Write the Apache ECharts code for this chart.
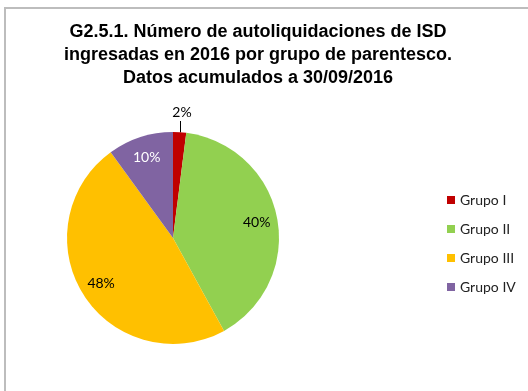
<!DOCTYPE html>
<html>
<head>
<meta charset="utf-8">
<script src="https://cdn.jsdelivr.net/npm/echarts@6/dist/echarts.min.js"></script>
<style>
  html, body { margin: 0; padding: 0; background: #fff; overflow: hidden; }
  #frame { position: absolute; left: 4px; top: 7px; width: 700px; height: 600px;
           border-left: 2px solid #bdbdbd; border-top: 2px solid #bdbdbd; }
  #chart { position: absolute; left: 0; top: 0; width: 528px; height: 391px; }
</style>
</head>
<body>
<div id="frame"></div>
<div id="chart"></div>
<script>
// Grupos de parentesco y su peso (%) en las autoliquidaciones de ISD
const grupos = ['Grupo I', 'Grupo II', 'Grupo III', 'Grupo IV'];
const porcentajes = [2, 40, 48, 10];
const colores = ['#C00000', '#92D050', '#FFC000', '#8064A2'];
const coloresEtiqueta = ['#000000', '#000000', '#000000', '#FFFFFF'];
const titulo = 'G2.5.1. Número de autoliquidaciones de ISD\ningresadas en 2016 por grupo de parentesco.\nDatos acumulados a 30/09/2016';

const centro = [173, 238];
const radio = 106;
const fuenteTexto = 'Lato, "Liberation Sans", sans-serif';

const datosPie = grupos.map((g, i) => ({
  name: g,
  value: porcentajes[i],
  itemStyle: { color: colores[i] },
  label: { show: i === 0 },
  labelLine: { show: i === 0 }
}));

// Capa transparente que sólo coloca las etiquetas interiores a ~0.78 del radio
const datosEtiquetas = grupos.map((g, i) => ({
  name: g,
  value: porcentajes[i],
  itemStyle: { color: 'rgba(0,0,0,0)' },
  label: { show: i !== 0, color: coloresEtiqueta[i] }
}));

const chart = echarts.init(document.getElementById('chart'), null, { renderer: 'canvas' });
chart.setOption({
  animation: false,
  title: {
    text: titulo,
    left: 258,
    top: 21,
    padding: 0,
    textAlign: 'center',
    textStyle: {
      fontFamily: '"Liberation Sans", Arial, sans-serif',
      fontWeight: 'bold',
      fontSize: 18,
      lineHeight: 23,
      color: '#000'
    }
  },
  legend: {
    data: grupos,
    orient: 'vertical',
    left: 447,
    top: 192,
    padding: 0,
    itemWidth: 8,
    itemHeight: 8,
    itemGap: 13,
    icon: 'rect',
    textStyle: { fontFamily: fuenteTexto, fontSize: 14, lineHeight: 16, color: '#222' }
  },
  series: [
    {
      type: 'pie',
      center: centro,
      radius: radio,
      startAngle: 90,
      clockwise: true,
      silent: true,
      itemStyle: { borderWidth: 0 },
      label: {
        position: 'outside',
        formatter: '{c}%',
        fontFamily: fuenteTexto,
        fontSize: 14,
        color: '#000'
      },
      labelLine: { length: 10, length2: 0, lineStyle: { color: '#000', width: 1 } },
      // Etiqueta del sector pequeño centrada encima, con guía vertical
      labelLayout: function (p) {
        if (p.dataIndex !== 0) return {};
        const xm = Math.round(p.rect.x + p.rect.width / 2) + 0.5;
        return {
          x: xm + 1.5,
          y: p.rect.y - 20,
          align: 'center',
          verticalAlign: 'middle',
          labelLinePoints: [[xm, p.rect.y + 0.5], [xm, p.rect.y - 11], [xm, p.rect.y - 11]]
        };
      },
      data: datosPie
    },
    {
      type: 'pie',
      center: centro,
      radius: [0, radio * 1.55],
      startAngle: 90,
      clockwise: true,
      silent: true,
      itemStyle: { borderWidth: 0 },
      label: {
        position: 'inside',
        formatter: '{c}%',
        fontFamily: fuenteTexto,
        fontSize: 14
      },
      labelLine: { show: false },
      emphasis: { disabled: true },
      data: datosEtiquetas
    }
  ]
});
</script>
</body>
</html>
